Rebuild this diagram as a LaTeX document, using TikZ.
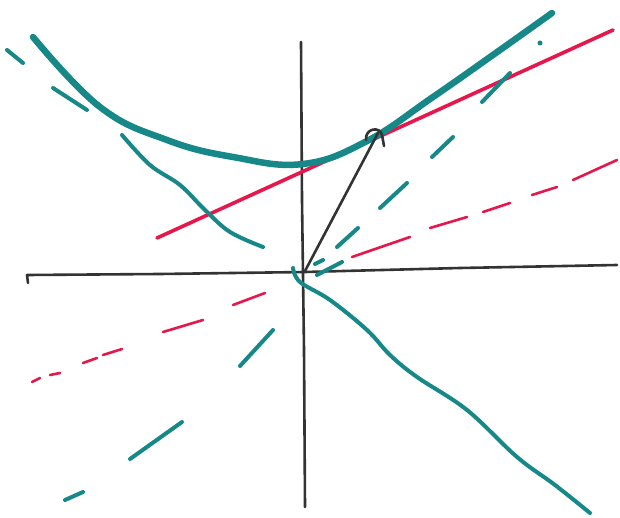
\documentclass[tikz,border=0pt]{standalone}
\begin{document}
\begin{tikzpicture}[x=1pt,y=-1pt,line cap=round,line join=round,
  axis/.style={draw=black!80,line width=2.6pt},
  hyp/.style={draw=tealc,line width=6.5pt},
  tl/.style={draw=tealc,line width=4pt},
  rl/.style={draw=redc,line width=3.6pt},
  rd/.style={draw=redc,line width=2.6pt}]
\definecolor{tealc}{HTML}{168888}
\definecolor{redc}{HTML}{E5174B}
\useasboundingbox[fill=white] (0,0) rectangle (620,518);
% axes
\draw[axis] (28,283) -- (27,275) -- (160,274) -- (305,272) -- (460,268) -- (617,265);
\draw[axis] (301,42) -- (302,200) -- (304,350) -- (305,507);
% red solid line
\draw[rl] (157,238) -- (613,30);
% red dashed line
\foreach \a/\b in {{(32,382)/(40,378)},{(50,375)/(60,373)},{(83,363)/(97,358)},{(103,355)/(122,349)},{(163,332)/(203,320)},{(233,305)/(265,293)},{(352,257)/(410,237)},{(430,228)/(467,217)},{(483,212)/(510,203)},{(532,195)/(557,187)},{(573,180)/(617,160)}}
  \draw[rd] \a -- \b;
% hyperbola upper branch
\draw[hyp] plot[smooth,tension=0.7] coordinates {(33,37) (100,107) (167,140) (233,157) (303,164) (367,141) (433,97) (500,50) (552,13)};
% teal asymptote (dashed, up-right)
\foreach \a/\b in {{(65,500)/(83,492)},{(130,459)/(182,422)},{(240,366)/(273,330)},{(315,264)/(323,260)},{(317,275)/(342,262)},{(337,247)/(358,228)},{(380,208)/(407,183)},{(432,157)/(453,137)},{(482,102)/(510,73)}}
  \draw[tl] \a -- \b;
\fill[tealc] (540,43) circle (2.5);
% teal asymptote (down-right)
\draw[tl] (7,50) -- (23,63);
\draw[tl] (53,88) -- (87,110);
\draw[tl] plot[smooth,tension=0.6] coordinates {(122,135) (150,165) (180,185) (205,210) (230,232) (263,247)};
\draw[tl] plot[smooth,tension=0.6] coordinates {(293,268) (300,282) (330,300) (367,330) (390,355) (417,377) (467,410) (517,457) (555,485) (590,513)};
% black vector
\draw[draw=black!80,line width=2.6pt] (305,271) -- (378,133);
\draw[draw=black!80,line width=2.6pt] (366,140) .. controls (365,128) and (380,126) .. (382,135) -- (384,146);
\end{tikzpicture}
\end{document}
